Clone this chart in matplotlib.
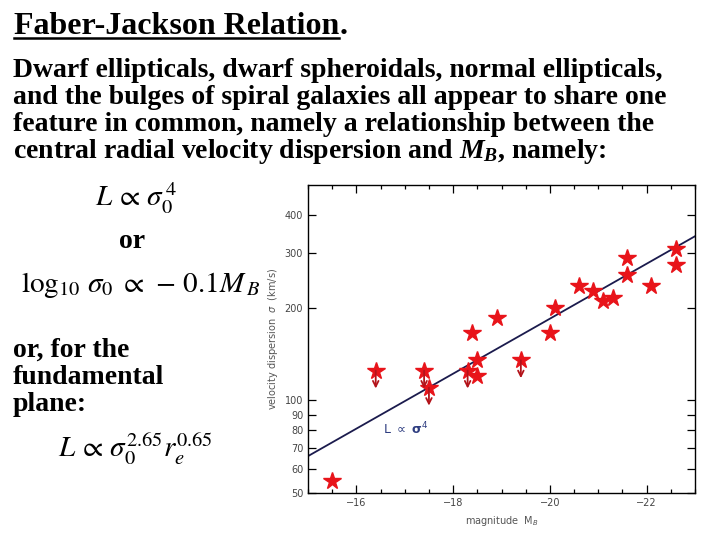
import matplotlib
matplotlib.use("Agg")
import matplotlib.pyplot as plt
from matplotlib.ticker import FixedLocator, MultipleLocator, NullLocator
from matplotlib.lines import Line2D

# ===========================
# Data
# ===========================
star_mag = [-15.5, -18.4, -18.5, -18.5, -18.9, -20.0, -20.1, -20.6, -20.9,
            -21.1, -21.3, -21.6, -21.6, -22.1, -22.6, -22.6]
star_sigma = [55, 165, 135, 120, 185, 165, 200, 236, 226,
              210, 215, 290, 256, 236, 311, 275]

# upper limits (drawn with a downward arrow)
limit_mag = [-16.4, -17.4, -17.5, -18.3, -19.4]
limit_sigma = [125, 125, 110, 125, 135]

# L ~ sigma^4 reference line (end points)
fit_mag = [-15.0, -23.0]
fit_sigma = [66, 341]

y_ticks = [50, 60, 70, 80, 90, 100, 200, 300, 400]

title = "Faber-Jackson Relation"
body_lines = [
    "Dwarf ellipticals, dwarf spheroidals, normal ellipticals,",
    "and the bulges of spiral galaxies all appear to share one",
    "feature in common, namely a relationship between the",
    r"central radial velocity dispersion and $M_B$, namely:",
]
side_lines = ["or, for the", "fundamental", "plane:"]

# ===========================
# Figure
# ===========================
plt.rcParams["mathtext.fontset"] = "custom"
plt.rcParams["mathtext.rm"] = "Liberation Serif:bold"
plt.rcParams["mathtext.it"] = "Liberation Serif:bold:italic"
plt.rcParams["mathtext.bf"] = "Liberation Serif:bold"

W, H = 720, 540
fig = plt.figure(figsize=(7.2, 5.4), dpi=100)
fig.patch.set_facecolor("white")


def px(x, y):
    """Pixel position (from top-left) to figure fraction."""
    return x / W, 1 - y / H


serif = "Liberation Serif"
body_size = 20
eq_size = 21

# title with underline
tx, ty = px(14, 34)
t = fig.text(tx, ty, title, fontsize=23, fontweight="bold", family=serif,
             va="baseline")
fig.canvas.draw()
bb = t.get_window_extent().transformed(fig.transFigure.inverted())
fig.text(bb.x1, ty, ".", fontsize=23, fontweight="bold", family=serif,
         va="baseline")
uy = 1 - 37.5 / H
fig.add_artist(Line2D([bb.x0, bb.x1], [uy, uy], color="black", lw=1.8,
                      transform=fig.transFigure))

for i, line in enumerate(body_lines):
    x, y = px(13, 77 + i * 27)
    fig.text(x, y, line, fontsize=body_size, fontweight="bold", family=serif,
             va="baseline")

for i, line in enumerate(side_lines):
    x, y = px(13, 357 + i * 27)
    fig.text(x, y, line, fontsize=body_size, fontweight="bold", family=serif,
             va="baseline")

x, y = px(132, 248)
fig.text(x, y, "or", fontsize=body_size, fontweight="bold", family=serif,
         va="baseline", ha="center")

# equations
x, y = px(95, 206)
fig.text(x, y, r"$L\, \propto\, \sigma_0^{\,4}$", fontsize=eq_size,
         math_fontfamily="stix", va="baseline")
x, y = px(21, 292)
fig.text(x, y, r"$\log_{10}\,\sigma_0\; \propto\, -\,0.1M_{\,B}$",
         fontsize=eq_size, math_fontfamily="stix", va="baseline")
x, y = px(58, 457)
fig.text(x, y, r"$L\, \propto\, \sigma_0^{2.65} r_e^{0.65}$", fontsize=eq_size,
         math_fontfamily="stix", va="baseline")

# ===========================
# Chart
# ===========================
ax = fig.add_axes([308 / W, 1 - 493.3 / H, 387 / W, 308.3 / H])

ax.plot(fit_mag, fit_sigma, color="#1b1b4d", lw=1.3, zorder=2)

ax.plot(star_mag, star_sigma, ls="none", marker="*", ms=13,
        color="#e8141a", mec="#e8141a", zorder=3)
ax.plot(limit_mag, limit_sigma, ls="none", marker="*", ms=13,
        color="#e8141a", mec="#e8141a", zorder=3)
for m, s in zip(limit_mag, limit_sigma):
    ax.annotate("", xy=(m, s * 0.875), xytext=(m, s),
                arrowprops=dict(arrowstyle="->", color="#b3131a", lw=1.3,
                                shrinkA=0, shrinkB=0),
                zorder=4)

ax.text(-16.55, 81, r"L $\propto$ $\mathbf{\sigma}^4$", color="#2e3d80",
        fontsize=9, family="DejaVu Sans", math_fontfamily="dejavusans",
        va="center")

ax.set_yscale("log")
ax.set_xlim(-15, -23)
ax.set_ylim(50, 500)
ax.yaxis.set_major_locator(FixedLocator(y_ticks))
ax.yaxis.set_minor_locator(NullLocator())
ax.set_yticklabels([str(v) for v in y_ticks])
ax.xaxis.set_major_locator(MultipleLocator(2))
ax.xaxis.set_minor_locator(MultipleLocator(0.5))
ax.xaxis.set_major_formatter(
    matplotlib.ticker.FuncFormatter(lambda v, p: f"\u2212{abs(v):.0f}"))

ax.tick_params(which="both", direction="in", top=True, right=True,
               labelsize=7, labelcolor="#444444", width=0.9)
ax.tick_params(which="major", length=6)
ax.tick_params(which="minor", length=3)
for sp in ax.spines.values():
    sp.set_linewidth(1.0)

ax.set_xlabel(r"magnitude  M$_B$", fontsize=7, color="#555555", labelpad=4)
ax.set_ylabel(r"velocity dispersion  $\sigma$  (km/s)", fontsize=7,
              color="#555555", labelpad=3)
ax.xaxis.label.set_math_fontfamily("dejavusans")
ax.yaxis.label.set_math_fontfamily("dejavusans")

fig.savefig("out.png", dpi=100)
